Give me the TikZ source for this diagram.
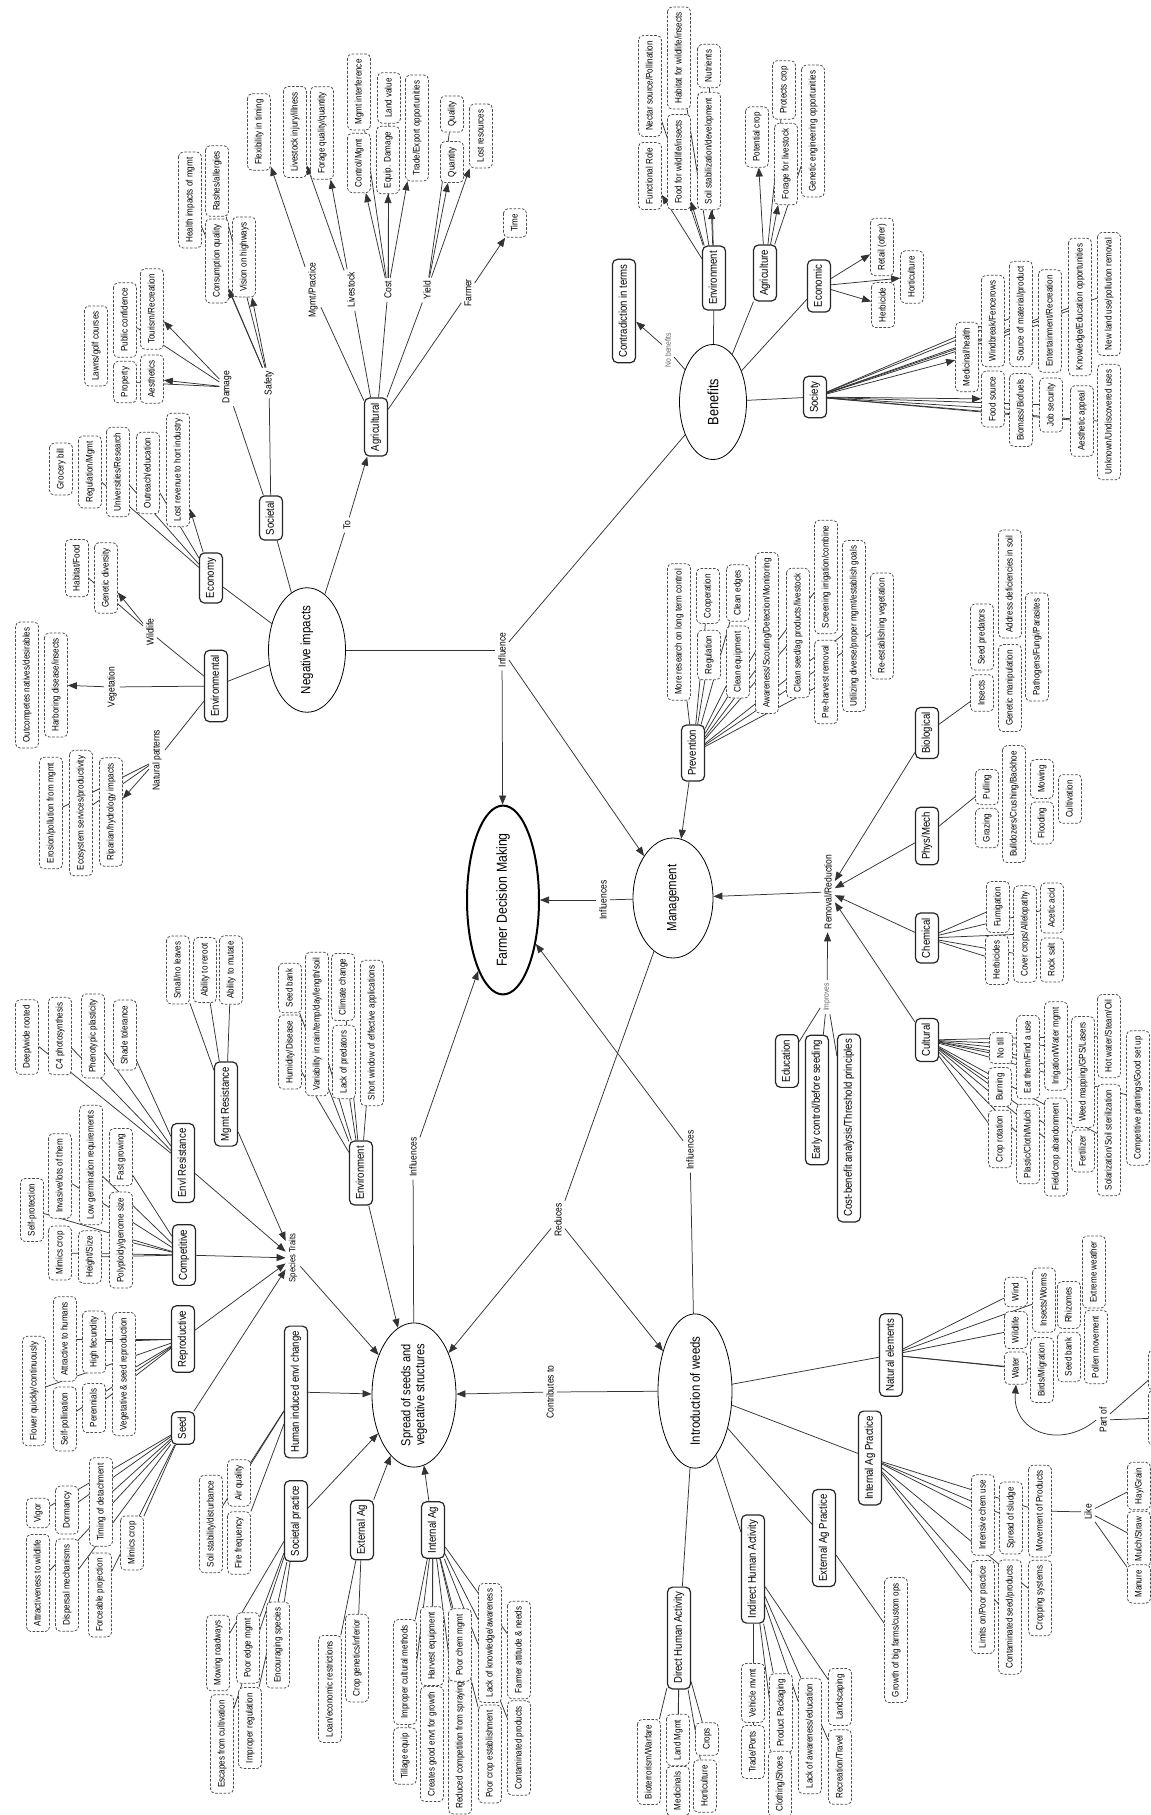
\documentclass[tikz,border=0pt]{standalone}
\usepackage{fontspec}
\setmainfont{Liberation Sans}[FakeStretch=0.85]
\usetikzlibrary{shapes.geometric,arrows.meta,backgrounds}
\begin{document}
\begin{tikzpicture}[x=1pt,y=-1pt,
  leaf/.style={draw=black!70, dash pattern=on 2.6pt off 1.6pt, line width=0.75pt, rounded corners=4.5pt, rotate=90, fill=white, font=\fontsize{9.5}{10}\selectfont, inner xsep=5.5pt, inner ysep=0pt, minimum height=23pt, text height=7pt, text depth=2pt},
  cat/.style={draw=black!85, line width=1.2pt, rounded corners=5pt, rotate=90, fill=white, font=\fontsize{11.3}{12}\selectfont, inner xsep=5pt, inner ysep=0pt, minimum height=23pt, text height=8.3pt, text depth=2.4pt},
  lab/.style={rotate=90, font=\fontsize{10}{11}\selectfont, inner sep=3pt},
  glab/.style={lab, text=black!60, font=\fontsize{8}{9}\selectfont},
  ell/.style={ellipse, draw, line width=0.8pt, rotate=90, inner sep=0pt, font=\fontsize{13.5}{15}\selectfont, align=center, fill=white},
  ln/.style={draw=black!80, line width=0.75pt},
  arr/.style={ln, -{Triangle[length=9pt,width=7pt]}}]
\useasboundingbox (0,0) rectangle (1151,1815);

% ---------------- Negative impacts cluster
\node[ell, minimum width=115pt, minimum height=77pt] (NI) at (307,650) {Negative impacts};
\node[cat] (envl) at (216,686) {Environmental};
\node[lab] (veg) at (112,687) {Vegetation};
\node[leaf] (outc) at (27,685) {Outcompetes natives/desirables};
\node[leaf] (harb) at (56,685) {Harboring disease/insects};
\node[lab] (wild) at (150,632) {Wildlife};
\node[leaf] (habf) at (77,568) {Habitat/Food};
\node[leaf] (gend) at (106,578) {Genetic diversity};
\node[lab] (natp) at (157,760) {Natural patterns};
\node[leaf] (eros) at (51,813) {Erosion/pollution from mgmt};
\node[leaf] (ecos) at (81,813) {Ecosystem services/productivity};
\node[leaf] (ripa) at (111,812) {Riparian/hydrology impacts};
\node[cat] (econ) at (211,578) {Economy};
\node[leaf] (groc) at (61,469) {Grocery bill};
\node[leaf] (regm) at (90,472) {Regulation/Mgmt};
\node[leaf] (univ) at (118,472) {Universities/Research};
\node[leaf] (outr) at (148,473) {Outreach/education};
\node[leaf] (lostr) at (178,470) {Lost revenue to hort industry};
\node[cat] (soc) at (271,518) {Societal};
\node[lab] (dam) at (227,387) {Damage};
\node[leaf] (lawn) at (96,346) {Lawns/golf courses};
\node[leaf] (prop) at (125,382) {Property};
\node[leaf] (pubc) at (125,320) {Public confidence};
\node[leaf] (aest) at (152,379) {Aesthetics};
\node[leaf] (tour) at (152,309) {Tourism/Recreation};
\node[lab] (saf) at (269,383) {Safety};
\node[leaf] (heal) at (190,200) {Health impacts of mgmt};
\node[leaf] (rash) at (217,181) {Rashes/allergies};
\node[leaf] (cons) at (217,261) {Consumption quality};
\node[leaf] (visi) at (244,257) {Vision on highways};
\node[lab] (to) at (347,525) {To};
\node[cat] (agr) at (376,427) {Agricultural};
\node[lab] (mgp) at (313,290) {Mgmt/Practice};
\node[leaf] (flex) at (259,132) {Flexibility in timing};
\node[lab] (lvs) at (351,290) {Livestock};
\node[leaf] (lvi) at (295,132) {Livestock injury/illness};
\node[leaf] (forq) at (322,133) {Forage quality/quantity};
\node[lab] (cost) at (388,290) {Cost};
\node[leaf] (ctrl) at (359,163) {Control/Mgmt};
\node[leaf] (mint) at (359,92) {Mgmt interference};
\node[leaf] (landv) at (389,98) {Land value};
\node[leaf] (equip) at (388,160) {Equip. Damage};
\node[leaf] (trade) at (417,128) {Trade/Export opportunities};
\node[lab] (yld) at (427,290) {Yield};
\node[leaf] (qual) at (452,114) {Quality};
\node[leaf] (quan) at (452,162) {Quantity};
\node[leaf] (lostres) at (481,136) {Lost resources};
\node[lab] (frm) at (468,293) {Farmer};
\node[leaf] (time) at (515,223) {Time};
\node[lab] (infl) at (502,650) {Influence};

% ---------------- Benefits cluster
\node[ell, minimum width=115pt, minimum height=67pt, font=\fontsize{15}{16}\selectfont] (ben) at (713,402) {Benefits};
\node[glab] (nob) at (668,350) {No benefits};
\node[cat] (contr) at (624,311) {Contradiction in terms};
\node[cat] (benv) at (714,278) {Environment};
\node[leaf] (func) at (650,176) {Functional Role};
\node[leaf] (nect) at (650,86) {Nectar source/Pollination};
\node[leaf] (food) at (679,162) {Food for wildlife/insects};
\node[leaf] (habw) at (679,58) {Habitat for wildlife/insects};
\node[leaf] (soil) at (709,151) {Soil stabilization/development};
\node[leaf] (nutr) at (709,66) {Nutrients};
\node[cat] (bagr) at (765,273) {Agriculture};
\node[leaf] (potc) at (757,137) {Potential crop};
\node[leaf] (protc) at (784,90) {Protects crop};
\node[leaf] (forl) at (786,164) {Forage for livestock};
\node[leaf] (gene) at (813,131) {Genetic engineering opportunities};
\node[cat] (beco) at (819,286) {Economic};
\node[leaf] (ret) at (882,247) {Retail (other)};
\node[leaf] (herb) at (883,305) {Herbicide};
\node[leaf] (hort) at (912,277) {Horticulture};
\node[cat] (bsoc) at (815,397) {Society};
\node[leaf] (med) at (967,357) {Medicinal/health};
\node[leaf] (fsrc) at (993,399) {Food source};
\node[leaf] (wind) at (993,321) {Windbreak/Fencerows};
\node[leaf] (srcm) at (1021,314) {Source of material/product};
\node[leaf] (biom) at (1021,410) {Biomass/Biofuels};
\node[leaf] (ent) at (1050,321) {Entertainment/Recreation};
\node[leaf] (job) at (1051,405) {Job security};
\node[leaf] (know) at (1080,307) {Knowledge/Education opportunities};
\node[leaf] (aesa) at (1082,421) {Aesthetic appeal};
\node[leaf] (newl) at (1109,294) {New land use/pollution removal};
\node[leaf] (unk) at (1109,422) {Unknown/Undiscovered uses};

% ---------------- Management cluster
\node[ell, minimum width=154pt, minimum height=72pt, line width=2pt, font=\fontsize{14.5}{16}\selectfont] (fdm) at (503,900) {Farmer Decision Making};
\node[ell, minimum width=120pt, minimum height=80pt] (mgmt) at (673,898) {Management};
\node[lab] (infm) at (603,900) {Influences};
\node[cat] (prev) at (693,753) {Prevention};
\node[leaf] (mres) at (679,632) {More research on long term control};
\node[leaf] (coop) at (708,596) {Cooperation};
\node[leaf] (regu) at (709,655) {Regulation};
\node[leaf] (cedg) at (738,593) {Clean edges};
\node[leaf] (cequ) at (738,662) {Clean equipment};
\node[leaf] (awar) at (767,633) {Awareness/Scouting/Detection/Monitoring};
\node[leaf] (cseed) at (798,633) {Clean seed/ag products/livestock};
\node[leaf] (scre) at (826,577) {Screening irrigation/combine};
\node[leaf] (preh) at (826,682) {Pre-harvest removal};
\node[leaf] (util) at (854,626) {Utilizing diverse/proper mgmt/establish goals};
\node[leaf] (reest) at (882,626) {Re-establishing vegetation};
\node[lab] (rr) at (828,892) {Removal/Reduction};
\node[cat] (bio) at (927,733) {Biological};
\node[leaf] (ins) at (982,693) {Insects};
\node[leaf] (sdp) at (982,637) {Seed predators};
\node[leaf] (genm) at (1010,688) {Genetic manipulation};
\node[leaf] (addr) at (1010,584) {Address deficiencies in soil};
\node[leaf] (path) at (1037,647) {Pathogens/Fungi/Parasites};
\node[cat] (phys) at (927,836) {Phys/Mech};
\node[leaf] (graz) at (987,828) {Grazing};
\node[leaf] (pull) at (987,787) {Pulling};
\node[leaf] (bull) at (1014,804) {Bulldozers/Crushing/Backhoe};
\node[leaf] (flood) at (1042,823) {Flooding};
\node[leaf] (mow) at (1042,779) {Mowing};
\node[leaf] (cultv) at (1070,799) {Cultivation};
\node[cat] (chem) at (927,938) {Chemical};
\node[leaf] (fumi) at (998,907) {Fumigation};
\node[leaf] (herbs) at (997,960) {Herbicides};
\node[leaf] (cover) at (1025,934) {Cover crops/Allelopathy};
\node[leaf] (rock) at (1052,960) {Rock salt};
\node[leaf] (acet) at (1052,908) {Acetic acid};
\node[cat] (cult) at (927,1040) {Cultural};
\node[cat] (edu) at (787,1061) {Education};
\node[cat] (early) at (817,1100) {Early control/before seeding};
\node[cat] (costb) at (849,1128) {Cost-benefit analysis/Threshold principles};
\node[glab] (impr) at (827,997) {Improves};
\node[leaf] (crot) at (1000,1139) {Crop rotation};
\node[leaf] (burn) at (1000,1087) {Burning};
\node[leaf] (notill) at (1001,1048) {No till};
\node[leaf] (eat) at (1028,1057) {Eat them/Find a use};
\node[leaf] (plas) at (1028,1144) {Plastic/Cloth/Mulch};
\node[leaf] (irr) at (1056,1046) {Irrigation/Water mgmt};
\node[leaf] (field) at (1056,1147) {Field/crop abandonment};
\node[leaf] (weed) at (1083,1072) {Weed mapping/GPS/Lasers};
\node[leaf] (fert) at (1083,1151) {Fertilizer};
\node[leaf] (hotw) at (1109,1036) {Hot water/Steam/Oil};
\node[leaf] (solar) at (1109,1140) {Solarization/Soil sterilization};
\node[leaf] (compp) at (1138,1098) {Competitive plantings/Good set up};

% ---------------- Spread cluster
\node[ell, minimum width=130pt, minimum height=84pt, font=\fontsize{13}{14}\selectfont] (spr) at (414,1395) {Spread of seeds and\\vegetative structures};
\node[lab, font=\fontsize{9}{10}\selectfont] (st) at (293,1258) {Species Traits};
\node[cat] (envr) at (183,1163) {Envl Resistance};
\node[leaf] (deep) at (27,1037) {Deep/wide rooted};
\node[leaf] (c4) at (60,1036) {C4 photosynthesis};
\node[leaf] (phen) at (93,1036) {Phenotypic plasticity};
\node[leaf] (shade) at (125,1035) {Shade tolerance};
\node[cat] (mgr) at (226,1104) {Mgmt Resistance};
\node[leaf] (small) at (178,970) {Small/no leaves};
\node[leaf] (rer) at (205,970) {Ability to reroot};
\node[leaf] (mut) at (231,970) {Ability to mutate};
\node[cat] (comp) at (184,1255) {Competitive};
\node[leaf] (selfp) at (32,1210) {Self-protection};
\node[leaf] (inv) at (60,1176) {Invasive/lots of them};
\node[leaf] (mimc) at (60,1253) {Mimics crop};
\node[leaf] (lowg) at (91,1165) {Low germination requirements};
\node[leaf] (hgt) at (90,1257) {Height/Size};
\node[leaf] (fast) at (121,1157) {Fast growing};
\node[leaf] (poly) at (121,1240) {Polyploidy/genome size};
\node[cat] (repr) at (183,1339) {Reproductive};
\node[leaf] (flow) at (34,1391) {Flower quickly/continuously};
\node[leaf] (attr) at (65,1339) {Attractive to humans};
\node[leaf] (selfpol) at (65,1419) {Self-pollination};
\node[leaf] (hfec) at (94,1342) {High fecundity};
\node[leaf] (pere) at (94,1408) {Perennials};
\node[leaf] (vege) at (124,1374) {Vegetative \& seed reproduction};
\node[cat] (seed) at (183,1428) {Seed};
\node[leaf] (vig) at (38,1513) {Vigor};
\node[leaf] (dorm) at (67,1510) {Dormancy};
\node[leaf] (attw) at (38,1583) {Attractiveness to wildlife};
\node[leaf] (disp) at (67,1585) {Dispersal mechanisms};
\node[leaf] (timd) at (101,1502) {Timing of detachment};
\node[leaf] (force) at (100,1595) {Forceable projection};
\node[leaf] (mimcb) at (132,1543) {Mimics crop};
\node[cat] (envs) at (361,1173) {Environment};
\node[leaf] (humd) at (290,1052) {Humidity/Disease};
\node[leaf] (sbank) at (290,988) {Seed bank};
\node[leaf] (vari) at (317,1024) {Variability in rain/temp/day/length/soil};
\node[leaf] (clim) at (343,987) {Climate change};
\node[leaf] (lackp) at (344,1062) {Lack of predators};
\node[leaf] (short) at (372,1033) {Short window of effective applications};
\node[cat] (hum) at (296,1392) {Human induced envl change};
\node[leaf] (soils) at (211,1524) {Soil stability/disturbance};
\node[leaf] (air) at (239,1483) {Air quality};
\node[leaf] (fire) at (239,1543) {Fire frequency};
\node[cat] (socp) at (296,1521) {Societal practice};
\node[leaf] (mowr) at (218,1653) {Mowing roadways};
\node[leaf] (esc) at (222,1744) {Escapes from cultivation};
\node[leaf] (poore) at (248,1648) {Poor edge mgmt};
\node[leaf] (impreg) at (250,1728) {Improper regulation};
\node[leaf] (encs) at (278,1645) {Encouraging species};
\node[cat] (exta) at (362,1530) {External Ag};
\node[leaf] (loan) at (330,1689) {Loan/economic restrictions};
\node[leaf] (cropg) at (357,1658) {Crop genetics/inferior};
\node[cat] (inta) at (433,1530) {Internal Ag};
\node[leaf] (till) at (405,1756) {Tillage equip};
\node[leaf] (impc) at (405,1672) {Improper cultural methods};
\node[leaf] (creat) at (432,1744) {Creates good envt for growth};
\node[leaf] (harv) at (432,1646) {Harvest equipment};
\node[leaf] (redc) at (460,1745) {Reduced competition from spraying};
\node[leaf] (poorc) at (460,1645) {Poor chem mgmt};
\node[leaf] (lackk) at (490,1643) {Lack of knowledge/awareness};
\node[leaf] (poorce) at (490,1754) {Poor crop establishment};
\node[leaf] (farma) at (519,1650) {Farmer attitude \& needs};
\node[leaf] (contp) at (519,1748) {Contaminated products};
\node[lab] (infs) at (413,1157) {Influences};
\node[lab] (red) at (558,1220) {Reduces};
\node[lab] (contb) at (550,1392) {Contributes to};

% ---------------- Introduction cluster
\node[ell, minimum width=128pt, minimum height=74pt] (intro) at (695,1391) {Introduction of weeds};
\node[lab] (infi) at (690,1150) {Influences};
\node[cat] (dha) at (679,1638) {Direct Human Activity};
\node[leaf] (biot) at (649,1762) {Bioterrorism/Warfare};
\node[leaf] (landm) at (678,1740) {Land Mgmt};
\node[leaf] (medi) at (678,1791) {Medicinals};
\node[leaf] (crops) at (707,1739) {Crops};
\node[leaf] (horth) at (705,1786) {Horticulture};
\node[cat] (iha) at (753,1569) {Indirect Human Activity};
\node[leaf] (vehm) at (753,1693) {Vehicle mvmt};
\node[leaf] (trdp) at (753,1752) {Trade/Ports};
\node[leaf] (prodp) at (781,1713) {Product Packaging};
\node[leaf] (cloth) at (780,1784) {Clothing/Shoes};
\node[leaf] (lacka) at (810,1736) {Lack of awareness/education};
\node[leaf] (lands) at (840,1697) {Landscaping};
\node[leaf] (recr) at (840,1767) {Recreation/Travel};
\node[cat] (eap) at (824,1538) {External Ag Practice};
\node[leaf] (grow) at (896,1640) {Growth of big farms/custom ops};
\node[cat] (iap) at (870,1458) {Internal Ag Practice};
\node[leaf] (intc) at (983,1515) {Intensive chem use};
\node[leaf] (limi) at (983,1607) {Limits on/Poor practice};
\node[leaf] (sludge) at (1011,1518) {Spread of sludge};
\node[leaf] (conts) at (1010,1617) {Contaminated seed/products};
\node[leaf] (movp) at (1040,1511) {Movement of Products};
\node[leaf] (cropsys) at (1040,1598) {Cropping systems};
\node[lab] (like) at (1088,1512) {Like};
\node[leaf] (hay) at (1139,1486) {Hay/Grain};
\node[leaf] (mulch) at (1139,1539) {Mulch/Straw};
\node[leaf] (manure) at (1139,1584) {Manure};
\node[cat] (nate) at (891,1355) {Natural elements};
\node[leaf] (water) at (1016,1368) {Water};
\node[leaf] (nwild) at (1016,1330) {Wildlife};
\node[leaf] (nwind) at (1016,1292) {Wind};
\node[leaf] (bird) at (1042,1370) {Birds/Migration};
\node[leaf] (insw) at (1044,1300) {Insects/Worms};
\node[leaf] (nsb) at (1069,1357) {Seed bank};
\node[leaf] (rhiz) at (1069,1305) {Rhizomes};
\node[leaf] (poll) at (1096,1347) {Pollen movement};
\node[leaf] (extw) at (1094,1272) {Extreme weather};
\node[lab] (partof) at (1103,1420) {Part of};
\node[leaf, minimum width=40pt] (eb1) at (1160,1370) {};
\node[leaf, minimum width=55pt] (eb2) at (1160,1418) {};

\begin{scope}[on background layer]
\fill[white] (0,0) rectangle (1151,1815);
% Negative impacts
\draw[ln] (NI) -- (infl);
\draw[arr] (infl) -- (fdm);
\draw[arr] (infl) -- (mgmt);
\draw[ln] (ben) -- (infl);
\draw[ln] (NI) -- (envl);
\draw[ln] (envl) -- (veg); \draw[arr] (veg) -- (harb);
\draw[ln] (envl) -- (wild); \draw[arr] (wild) -- (gend); \draw[ln] (wild) -- (habf);
\draw[ln] (envl) -- (natp); \draw[arr] (natp) -- (ripa); \draw[ln] (natp) -- (ecos); \draw[ln] (natp) -- (eros);
\draw[ln] (NI) -- (econ);
\foreach \t in {regm,univ,outr} \draw[ln] (econ) -- (\t);
\draw[arr] (econ) -- (lostr);
\draw[ln] (NI) -- (soc);
\draw[ln] (soc) -- (dam); \draw[ln] (soc) -- (saf);
\draw[arr] (dam) -- (tour); \draw[arr] (dam) -- (aest); \draw[ln] (dam) -- (pubc); \draw[ln] (dam) -- (prop);
\draw[arr] (saf) -- (cons); \draw[arr] (saf) -- (visi); \draw[ln] (saf) -- (rash); \draw[ln] (saf) -- (heal);
\draw[ln] (NI) -- (to); \draw[arr] (to) -- (agr);
\foreach \t in {mgp,lvs,cost,yld,frm} \draw[ln] (agr) -- (\t);
\draw[arr] (mgp) -- (flex);
\draw[arr] (lvs) -- (lvi); \draw[arr] (lvs) -- (forq);
\draw[arr] (cost) -- (ctrl); \draw[arr] (cost) -- (equip); \draw[arr] (cost) -- (trade);
\draw[ln] (cost) -- (landv); \draw[ln] (cost) -- (mint);
\draw[arr] (yld) -- (quan); \draw[arr] (yld) -- (lostres); \draw[ln] (yld) -- (qual);
\draw[arr] (frm) -- (time);
% Benefits
\draw[ln] (ben) -- (nob); \draw[arr] (nob) -- (contr);
\draw[ln] (ben) -- (benv);
\foreach \t in {func,food,soil} \draw[arr] (benv) -- (\t);
\foreach \t in {nect,habw,nutr} \draw[ln] (benv) -- (\t);
\draw[ln] (ben) -- (bagr);
\draw[arr] (bagr) -- (potc); \draw[arr] (bagr) -- (forl);
\draw[ln] (bagr) -- (protc); \draw[ln] (bagr) -- (gene);
\draw[ln] (ben) -- (beco);
\foreach \t in {ret,herb,hort} \draw[arr] (beco) -- (\t);
\draw[ln] (ben) -- (bsoc);
\draw[arr] (bsoc) -- (med); \draw[arr] (bsoc) -- (fsrc);
\foreach \t in {wind,srcm,ent,know,newl,biom,job,aesa,unk} \draw[ln] (bsoc) -- (\t);
% Management
\draw[ln] (mgmt) -- (infm); \draw[arr] (infm) -- (fdm);
\draw[arr] (prev) -- (mgmt);
\foreach \t in {mres,coop,regu,cedg,cequ,awar,cseed,scre,preh,util,reest} \draw[ln] (prev) -- (\t);
\draw[arr] (rr) -- (mgmt);
\foreach \t in {bio,phys,chem,cult} \draw[arr] (\t) -- (rr);
\draw[arr] (impr) -- (rr);
\foreach \t in {edu,early,costb} \draw[ln] (\t) -- (impr);
\draw[ln] (bio) -- (ins);
\draw[ln] (phys) -- (pull);
\foreach \t in {fumi,herbs,cover,rock,acet} \draw[ln] (chem) -- (\t);
\foreach \t in {crot,burn,notill,eat,plas,irr,field,weed,fert,hotw,solar,compp} \draw[ln] (cult) -- (\t);
% Spread
\draw[arr] (st) -- (spr);
\foreach \t in {envr,mgr,comp,repr,seed} \draw[arr] (\t) -- (st);
\foreach \t in {deep,c4,phen,shade} \draw[ln] (envr) -- (\t);
\foreach \t in {small,rer,mut} \draw[ln] (mgr) -- (\t);
\foreach \t in {selfp,inv,mimc,lowg,hgt,fast,poly} \draw[ln] (comp) -- (\t);
\foreach \t in {flow,attr,selfpol,hfec,pere,vege} \draw[ln] (repr) -- (\t);
\foreach \t in {vig,dorm,attw,disp,timd,force,mimcb} \draw[ln] (seed) -- (\t);
\draw[arr] (envs) -- (spr);
\foreach \t in {humd,sbank,vari,clim,lackp,short} \draw[ln] (envs) -- (\t);
\draw[arr] (hum) -- (spr);
\foreach \t in {soils,air,fire} \draw[ln] (hum) -- (\t);
\draw[arr] (socp) -- (spr);
\foreach \t in {mowr,esc,poore,impreg,encs} \draw[ln] (socp) -- (\t);
\draw[arr] (exta) -- (spr);
\foreach \t in {loan,cropg} \draw[ln] (exta) -- (\t);
\draw[arr] (inta) -- (spr);
\foreach \t in {till,impc,creat,harv,redc,poorc,lackk,poorce,farma,contp} \draw[ln] (inta) -- (\t);
\draw[ln] (spr) -- (infs); \draw[arr] (infs) -- (fdm);
\draw[ln] (mgmt) -- (red); \draw[arr] (red) -- (spr); \draw[arr] (red) -- (intro);
% Introduction
\draw[ln] (intro) -- (contb); \draw[arr] (contb) -- (spr);
\draw[ln] (intro) -- (infi); \draw[arr] (infi) -- (fdm);
\foreach \t in {dha,iha,eap,iap,nate} \draw[ln] (intro) -- (\t);
\foreach \t in {biot,landm,medi,crops,horth} \draw[ln] (dha) -- (\t);
\foreach \t in {vehm,trdp,prodp,cloth,lacka,lands,recr} \draw[ln] (iha) -- (\t);
\draw[ln] (eap) -- (grow);
\foreach \t in {intc,limi,sludge,conts,movp,cropsys} \draw[ln] (iap) -- (\t);
\draw[ln] (movp) -- (like);
\foreach \t in {hay,mulch,manure} \draw[ln] (like) -- (\t);
\foreach \t in {water,nwild,nwind,bird,insw} \draw[ln] (nate) -- (\t);
\draw[arr] (partof.north) .. controls (1060,1450) and (1012,1432) .. (water.west);
\draw[ln] (partof) -- (eb1); \draw[ln] (partof) -- (eb2);
\end{scope}
\end{tikzpicture}
\end{document}
